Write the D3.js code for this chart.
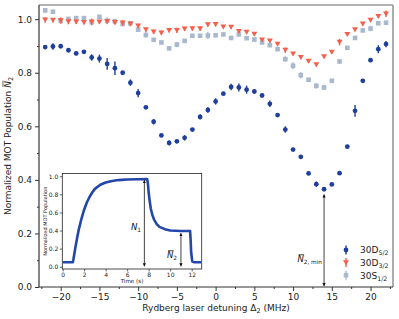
<!DOCTYPE html>
<html>
<head>
<meta charset="utf-8">
<script src="https://cdn.jsdelivr.net/npm/d3@7"></script>
<style>
body { margin: 0; background: #fff; }
text { font-family: "DejaVu Sans", sans-serif; }
</style>
</head>
<body>
<div id="chart"></div>
<script>
var WIDTH = 399;
var HEIGHT = 319;

// detuning in MHz
var detuning = [-22,-21,-20,-19,-18,-17,-16,-15,-14,-13,-12,-11,-10,-9,-8,-7,-6,-5,-4,-3,-2,-1,
	0,1,2,3,4,5,6,7,8,9,10,11,12,13,14,15,16,17,18,19,20,21,22];

var d52 = [0.896,0.898,0.899,0.884,0.872,0.878,0.857,0.853,0.833,0.817,0.800,
	0.763,0.724,0.671,0.617,0.566,0.538,0.544,0.557,0.588,0.635,0.661,
	0.693,0.722,0.747,0.745,0.737,0.730,0.715,0.684,0.642,0.588,0.513,
	0.486,0.424,0.384,0.365,0.383,0.425,0.524,0.658,0.770,0.847,0.888,0.907];
var d52err = [0.008,0.012,0.005,0.007,0.007,0.005,0.012,0.015,0.022,0.025,0.005,
	0.012,0.015,0.005,0.010,0.005,0.010,0.007,0.010,0.005,0.010,0.010,
	0.012,0.005,0.012,0.015,0.015,0.008,0.005,0.012,0.005,0.012,0.005,
	0.005,0.005,0.010,0.005,0.005,0.005,0.005,0.022,0.005,0.005,0.015,0.012];

var d32 = [0.997,0.996,0.995,0.991,0.990,0.988,0.990,0.990,0.992,0.988,0.986,
	0.982,0.975,0.961,0.953,0.949,0.958,0.958,0.964,0.965,0.965,0.980,
	0.981,0.971,0.970,0.954,0.952,0.944,0.923,0.919,0.907,0.884,0.870,
	0.857,0.843,0.830,0.860,0.877,0.914,0.943,0.961,0.982,0.996,1.010,1.020];
var d32err = [0.010,0.008,0.012,0.010,0.008,0.008,0.012,0.008,0.008,0.008,0.010,
	0.008,0.008,0.008,0.008,0.008,0.008,0.010,0.008,0.008,0.008,0.008,
	0.008,0.006,0.006,0.006,0.006,0.006,0.006,0.006,0.006,0.010,0.006,
	0.006,0.006,0.006,0.006,0.006,0.012,0.006,0.006,0.006,0.006,0.006,0.012];

var s12 = [1.033,1.028,0.994,1.001,1.004,1.004,0.989,1.009,0.994,0.992,0.982,
	0.985,0.961,0.941,0.923,0.913,0.891,0.905,0.919,0.938,0.938,0.939,
	0.940,0.943,0.930,0.943,0.929,0.924,0.913,0.903,0.888,0.851,0.826,
	0.791,0.774,0.751,0.745,0.770,0.842,0.893,0.930,0.958,0.965,0.985,0.987];
var s12err = [0.008,0.005,0.010,0.006,0.006,0.006,0.012,0.006,0.013,0.010,0.006,
	0.006,0.006,0.010,0.006,0.006,0.006,0.010,0.006,0.006,0.006,0.013,
	0.006,0.006,0.006,0.006,0.006,0.006,0.006,0.006,0.006,0.010,0.013,
	0.012,0.006,0.010,0.008,0.006,0.006,0.006,0.006,0.006,0.010,0.006,0.006];

var xTicks = [-20,-15,-10,-5,0,5,10,15,20];
var yTicks = [0.0,0.2,0.4,0.6,0.8,1.0];

// inset: MOT loading trace
var traceTime = [0,0.5,0.95,1.0,1.1,1.2,1.35,1.5,1.75,2.0,2.25,2.5,2.75,3.0,3.5,4.0,4.5,5.0,5.5,6.0,7.0,7.85,
	7.92,8.0,8.1,8.2,8.35,8.5,8.75,9.0,9.5,10.0,11.0,11.85,11.9,11.95,12.05,12.2,12.9];
var traceValue = [0.05,0.05,0.05,0.08,0.15,0.22,0.32,0.41,0.53,0.63,0.71,0.77,0.82,0.86,0.905,0.93,0.945,0.955,0.96,0.963,0.966,0.968,
	0.93,0.82,0.72,0.64,0.57,0.52,0.47,0.44,0.415,0.40,0.395,0.395,0.30,0.16,0.06,0.05,0.05];
var insetXTicks = [0,2,4,6,8,10,12];
var insetYTicks = [0.0,0.2,0.4,0.6,0.8,1.0];

var BLUE = "#1f3f9c";
var RED = "#f4604c";
var GREY = "#a9b8cd";

var svg = d3.select('#chart').append('svg').attr('width',WIDTH).attr('height',HEIGHT);

var mLeft = 39, mRight = 393, mTop = 5, mBottom = 287;
var x = d3.scaleLinear().domain([-22.8,22.9]).range([mLeft,mRight]);
var y = d3.scaleLinear().domain([0,1.053]).range([mBottom,mTop]);

// frame: top/right grey, left/bottom dark
svg.append('line').attr('x1',mLeft).attr('x2',mRight).attr('y1',mTop).attr('y2',mTop)
	.attr('stroke','#999').attr('stroke-width',1.6);
svg.append('line').attr('x1',mRight).attr('x2',mRight).attr('y1',mTop).attr('y2',mBottom)
	.attr('stroke','#999').attr('stroke-width',1.6);

var xAxis = svg.append('g').attr('transform','translate(0,'+mBottom+')')
	.call(d3.axisBottom(x).tickValues(xTicks).tickSize(4).tickPadding(3)
		.tickFormat(function(d){ return d < 0 ? '\u2212'+Math.abs(d) : d; }));
var xMinor = svg.append('g').attr('transform','translate(0,'+mBottom+')')
	.call(d3.axisBottom(x).tickValues(d3.range(-22.5,23,2.5).filter(function(v){return v%5 != 0;}))
		.tickSize(2).tickFormat(''));
xMinor.select('path').remove();
var yAxis = svg.append('g').attr('transform','translate('+mLeft+',0)')
	.call(d3.axisLeft(y).tickValues(yTicks).tickSize(4).tickPadding(3).tickFormat(d3.format('.1f')));
var yMinor = svg.append('g').attr('transform','translate('+mLeft+',0)')
	.call(d3.axisLeft(y).tickValues([0.1,0.3,0.5,0.7,0.9]).tickSize(2).tickFormat(''));
yMinor.select('path').remove();
xAxis.select('path').attr('d','M'+mLeft+',0H'+mRight);
yAxis.select('path').attr('d','M0,'+mTop+'V'+mBottom);
[xAxis,yAxis].forEach(function(a){
	a.select('path').attr('stroke','#333').attr('stroke-width',1.2);
	a.selectAll('text').attr('font-size',9).attr('fill','#222');
});
svg.selectAll('.tick line').attr('stroke','#333');

// axis titles
svg.append('text').attr('x',(mLeft+mRight)/2).attr('y',311).attr('text-anchor','middle')
	.attr('font-size',9).attr('fill','#222')
	.html('Rydberg laser detuning \u0394<tspan font-size="6.5" dy="2">2</tspan><tspan dy="-2"> (MHz)</tspan>');
var yt = svg.append('g').attr('transform','translate(11,'+(mTop+mBottom)/2+') rotate(-90)');
var ytText = yt.append('text').attr('text-anchor','middle').attr('font-size',9).attr('fill','#222')
	.html('Normalized MOT Population <tspan font-style="italic">N</tspan><tspan font-size="6.5" dy="2">2</tspan>');

// overline on rotated y title N
(function(){
	var i = ytText.text().indexOf('N', 5);
	var s = ytText.node().getStartPositionOfChar(i);
	var w = ytText.node().getSubStringLength(i,1);
	yt.append('line').attr('x1',s.x+1).attr('x2',s.x+w+0.5).attr('y1',s.y-8).attr('y2',s.y-8)
		.attr('stroke','#222').attr('stroke-width',0.7);
})();

// series with error bars
var series = [
	{name:'30D', sub:'5/2', values:d52, errors:d52err, colour:BLUE, shape:'circle'},
	{name:'30D', sub:'3/2', values:d32, errors:d32err, colour:RED, shape:'tri'},
	{name:'30S', sub:'1/2', values:s12, errors:s12err, colour:GREY, shape:'square'}
];

function drawMarker(g, shape, colour, cx, cy) {
	if(shape == 'circle')
		g.append('circle').attr('cx',cx).attr('cy',cy).attr('r',2.4).attr('fill',colour);
	else if(shape == 'tri')
		g.append('path').attr('d','M'+(cx-3)+','+(cy-2.4)+'L'+(cx+3)+','+(cy-2.4)+'L'+cx+','+(cy+2.6)+'Z')
			.attr('fill',colour);
	else
		g.append('rect').attr('x',cx-2.3).attr('y',cy-2.3).attr('width',4.6).attr('height',4.6).attr('fill',colour);
}

var plot = svg.append('g');
series.slice().reverse().forEach(function(s){
	var g = plot.append('g');
	detuning.forEach(function(d,i){
		var v = s.values[i], e = s.errors[i];
		g.append('line').attr('x1',x(d)).attr('x2',x(d)).attr('y1',y(v-e)).attr('y2',y(v+e))
			.attr('stroke',s.colour).attr('stroke-width',1.4);
		drawMarker(g, s.shape, s.colour, x(d), y(v));
	});
});

// arrows
var defs = svg.append('defs');
defs.append('marker').attr('id','ah').attr('viewBox','0 0 6 6').attr('refX',5.5).attr('refY',3)
	.attr('markerWidth',4).attr('markerHeight',4).attr('orient','auto-start-reverse')
	.append('path').attr('d','M0,0L6,3L0,6Z').attr('fill','#111');

function arrow(g, x1, y1, x2, y2) {
	g.append('line').attr('x1',x1).attr('y1',y1).attr('x2',x2).attr('y2',y2)
		.attr('stroke','#111').attr('stroke-width',0.8)
		.attr('marker-start','url(#ah)').attr('marker-end','url(#ah)');
}

// N label helper: italic N with subscript and optional overline
function nLabel(g, px, py, size, sub, bar) {
	var t = g.append('text').attr('x',px).attr('y',py).attr('font-size',size).attr('fill','#111')
		.attr('text-anchor','end');
	t.append('tspan').attr('font-style','italic').text('N');
	t.append('tspan').attr('font-size',size*0.68).attr('dy',size*0.28).text(sub);
	if(bar) {
		var node = t.node();
		var s = node.getStartPositionOfChar(0);
		var w = node.getSubStringLength(0,1);
		g.append('line').attr('x1',s.x+size*0.12).attr('x2',s.x+w+size*0.05)
			.attr('y1',py-size*0.86).attr('y2',py-size*0.86)
			.attr('stroke','#111').attr('stroke-width',0.7);
	}
}

arrow(svg, x(14), y(0)-1, x(14), y(0.345));
nLabel(svg, 322, 262, 8.5, '2, min', true);

// legend
var lg = svg.append('g');
series.forEach(function(s,i){
	var ly = 250 + i*12.6;
	lg.append('line').attr('x1',346).attr('x2',346).attr('y1',ly-4.5).attr('y2',ly+4.5)
		.attr('stroke',s.colour).attr('stroke-width',1.4);
	drawMarker(lg, s.shape, s.colour, 346, ly);
	lg.append('text').attr('x',360).attr('y',ly+3.3).attr('font-size',9).attr('fill','#222')
		.html(s.name+'<tspan font-size="6.3" dy="2">'+s.sub+'</tspan>');
});

// inset
var il = 62.3, ir = 201.7, itop = 173.5, ib = 269;
var ix = d3.scaleLinear().domain([-0.03,12.93]).range([il,ir]);
var iy = d3.scaleLinear().domain([-0.025,1.03]).range([ib,itop]);
var inset = svg.append('g');
inset.append('rect').attr('x',il).attr('y',itop).attr('width',ir-il).attr('height',ib-itop)
	.attr('fill','#fff').attr('stroke','#222').attr('stroke-width',0.8);
var ixa = inset.append('g').attr('transform','translate(0,'+ib+')')
	.call(d3.axisBottom(ix).tickValues(insetXTicks).tickSize(2.5).tickPadding(1.5));
var iya = inset.append('g').attr('transform','translate('+il+',0)')
	.call(d3.axisLeft(iy).tickValues(insetYTicks).tickSize(2.5).tickPadding(1.5).tickFormat(d3.format('.1f')));
[ixa,iya].forEach(function(a){
	a.select('path').remove();
	a.selectAll('text').attr('font-size',6).attr('fill','#222');
	a.selectAll('line').attr('stroke','#222').attr('stroke-width',0.7);
});
inset.append('text').attr('x',(il+ir)/2).attr('y',283).attr('text-anchor','middle')
	.attr('font-size',5.6).attr('fill','#222').text('Time (s)');
inset.append('text').attr('transform','translate(47,'+(itop+ib)/2+') rotate(-90)')
	.attr('text-anchor','middle').attr('font-size',5).attr('fill','#222').text('Normalized MOT Population');

var line = d3.line().x(function(d){return ix(d[0]);}).y(function(d){return iy(d[1]);});
inset.append('path').datum(traceTime.map(function(t,i){return [t,traceValue[i]];}))
	.attr('d',line).attr('fill','none').attr('stroke','#2347a8').attr('stroke-width',2.6)
	.attr('stroke-linejoin','round');

arrow(inset, ix(7.6), iy(0)-0.5, ix(7.6), iy(0.955));
arrow(inset, ix(11), iy(0)-0.5, ix(11), iy(0.37));
nLabel(inset, 141, 230, 8.5, '1', false);
nLabel(inset, 177, 258, 8.5, '2', true);
</script>
</body>
</html>
